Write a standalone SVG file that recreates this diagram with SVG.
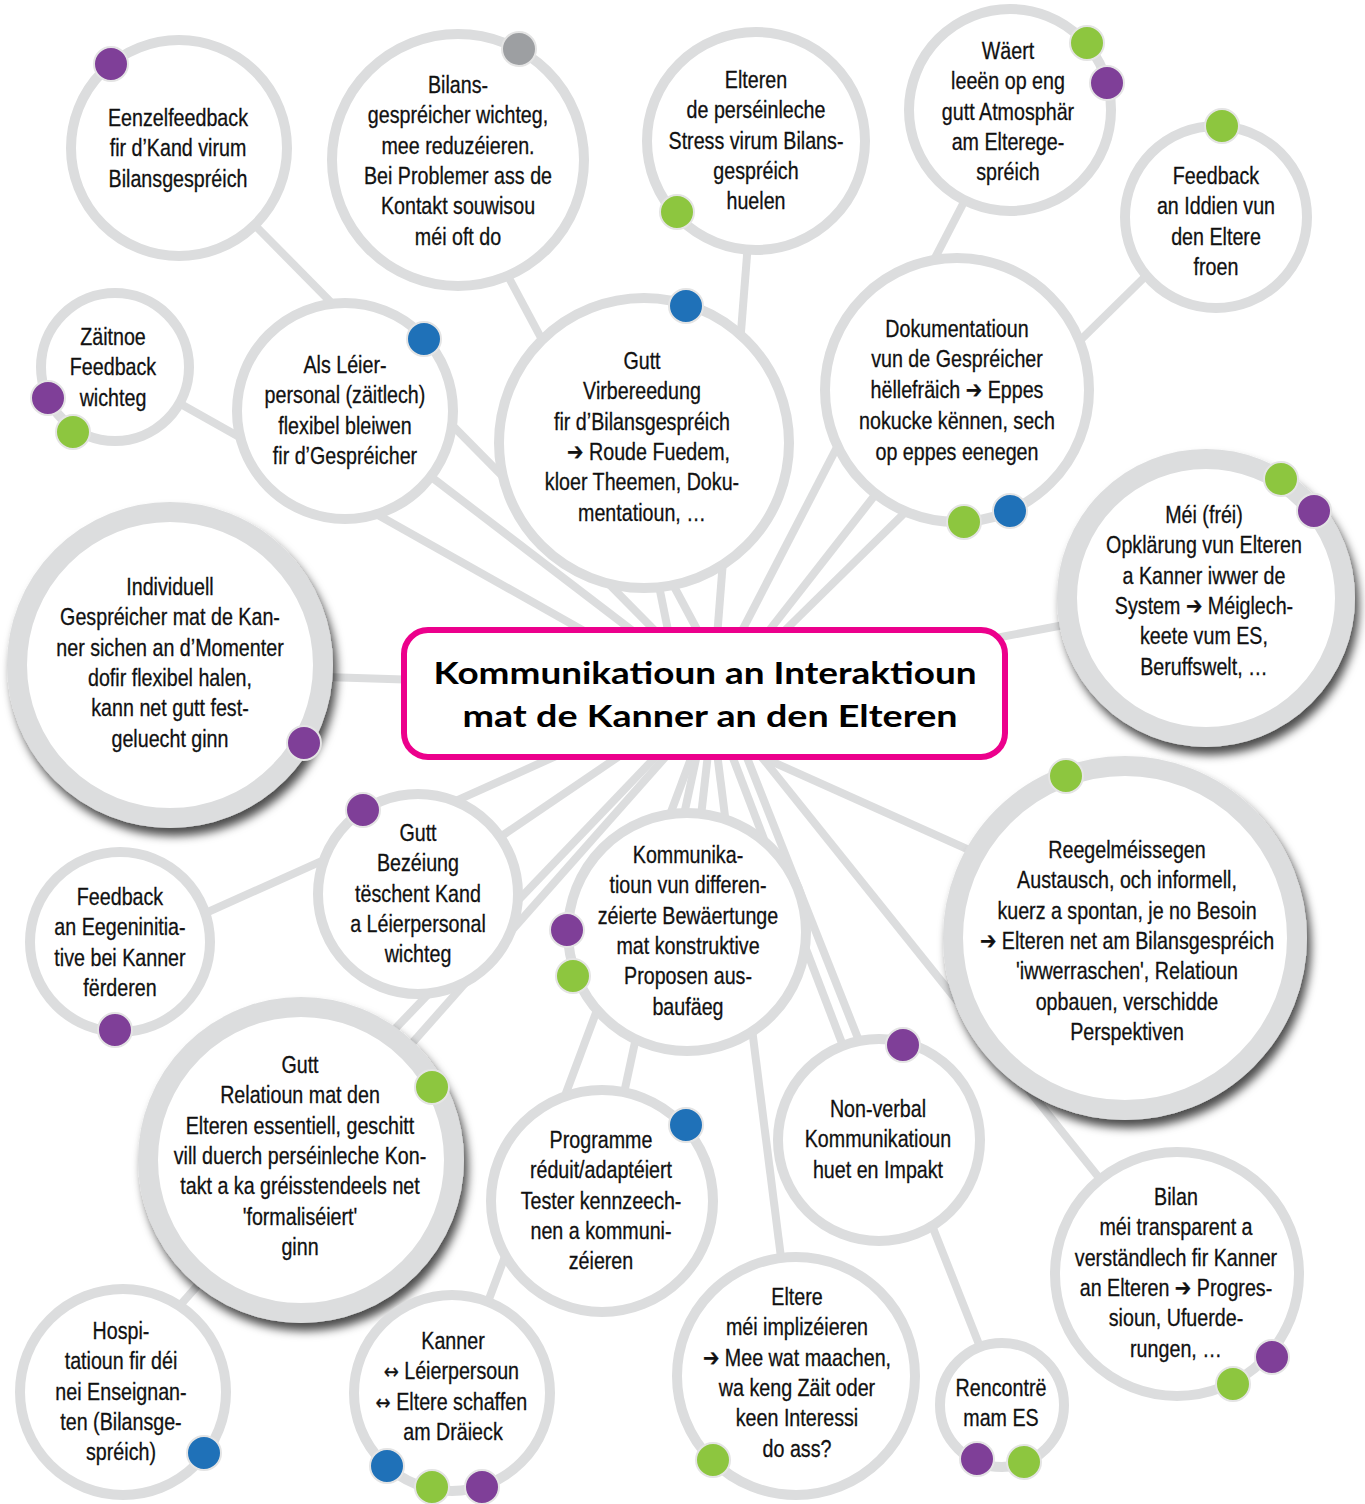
<svg xmlns="http://www.w3.org/2000/svg" width="1365" height="1504" viewBox="0 0 1365 1504">
<defs>
<filter id="sh" x="-20%" y="-20%" width="140%" height="140%">
<feDropShadow dx="4" dy="8" stdDeviation="5" flood-color="#000" flood-opacity="0.7"/>
</filter>
</defs>
<style>
.ring{fill:#fff;stroke:#dcddde;stroke-width:10}
.big{stroke-width:20;filter:url(#sh)}
.c line{stroke:#dcddde;stroke-width:8;fill:none}
text{font-family:"Liberation Sans","DejaVu Sans",sans-serif;font-size:24px;text-anchor:middle;fill:#111;stroke:#111;stroke-width:0.3}
.ar{font-family:"DejaVu Sans",sans-serif;font-size:22px}
.dot{stroke:#e4e4e4;stroke-width:2}
.p{fill:#7f3f98}.g{fill:#8dc63f}.b{fill:#1f71b8}.gr{fill:#9d9fa2}
.title{font-family:Lato,"Liberation Sans",sans-serif;font-weight:700;font-size:31px;fill:#000;stroke:none}
</style>
<rect width="1365" height="1504" fill="#fff"/>
<g id="connectors" class="c">
<line x1="230" y1="200" x2="674" y2="650"/>
<line x1="115" y1="367" x2="600" y2="640"/>
<line x1="345" y1="411" x2="655" y2="648"/>
<line x1="486" y1="235" x2="708" y2="650"/>
<line x1="630" y1="443" x2="672" y2="650"/>
<line x1="749" y1="230" x2="716" y2="650"/>
<line x1="965" y1="200" x2="732" y2="650"/>
<line x1="1160" y1="262" x2="765" y2="650"/>
<line x1="957" y1="390" x2="754" y2="650"/>
<line x1="200" y1="673" x2="420" y2="680"/>
<line x1="1206" y1="598" x2="985" y2="640"/>
<line x1="150" y1="938" x2="585" y2="743"/>
<line x1="418" y1="893" x2="640" y2="742"/>
<line x1="300" y1="1128" x2="667" y2="745"/>
<line x1="121" y1="1372" x2="676" y2="745"/>
<line x1="470" y1="1350" x2="696" y2="745"/>
<line x1="601" y1="1200" x2="699" y2="745"/>
<line x1="688" y1="932" x2="709" y2="745"/>
<line x1="796" y1="1376" x2="716" y2="745"/>
<line x1="879" y1="1140" x2="728" y2="745"/>
<line x1="1001" y1="1400" x2="742" y2="745"/>
<line x1="1125" y1="920" x2="735" y2="745"/>
<line x1="1177" y1="1275" x2="752" y2="745"/>
</g>
<g id="n-eenzelfeedback">
<circle class="ring" cx="179" cy="148" r="108"/>
<g transform="matrix(0.82 0 0 1 32.04 0)">
<text x="178" y="126">Eenzelfeedback</text>
<text x="178" y="156">fir d’Kand virum</text>
<text x="178" y="187">Bilansgespréich</text>
</g>
<circle class="dot p" cx="111" cy="64" r="17"/>
</g>
<g id="n-bilansgespreicher">
<circle class="ring" cx="458" cy="160" r="126"/>
<g transform="matrix(0.82 0 0 1 82.44 0)">
<text x="458" y="93">Bilans-</text>
<text x="458" y="123">gespréicher wichteg,</text>
<text x="458" y="154">mee reduzéieren.</text>
<text x="458" y="184">Bei Problemer ass de</text>
<text x="458" y="214">Kontakt souwisou</text>
<text x="458" y="245">méi oft do</text>
</g>
<circle class="dot gr" cx="519" cy="49" r="17"/>
</g>
<g id="n-stress">
<circle class="ring" cx="756" cy="141" r="109"/>
<g transform="matrix(0.82 0 0 1 136.08 0)">
<text x="756" y="88">Elteren</text>
<text x="756" y="118">de perséinleche</text>
<text x="756" y="149">Stress virum Bilans-</text>
<text x="756" y="179">gespréich</text>
<text x="756" y="209">huelen</text>
</g>
<circle class="dot g" cx="677" cy="212" r="17"/>
</g>
<g id="n-atmosphaer">
<circle class="ring" cx="1010" cy="110" r="101"/>
<g transform="matrix(0.82 0 0 1 181.44 0)">
<text x="1008" y="59">Wäert</text>
<text x="1008" y="89">leeën op eng</text>
<text x="1008" y="120">gutt Atmosphär</text>
<text x="1008" y="150">am Elterege-</text>
<text x="1008" y="180">spréich</text>
</g>
<circle class="dot g" cx="1087" cy="43" r="17"/>
<circle class="dot p" cx="1107" cy="83" r="17"/>
</g>
<g id="n-iddien">
<circle class="ring" cx="1216" cy="217" r="91"/>
<g transform="matrix(0.82 0 0 1 218.88 0)">
<text x="1216" y="184">Feedback</text>
<text x="1216" y="214">an Iddien vun</text>
<text x="1216" y="245">den Eltere</text>
<text x="1216" y="275">froen</text>
</g>
<circle class="dot g" cx="1222" cy="126" r="17"/>
</g>
<g id="n-zaitnoe">
<circle class="ring" cx="115" cy="367" r="74"/>
<g transform="matrix(0.82 0 0 1 20.34 0)">
<text x="113" y="345">Zäitnoe</text>
<text x="113" y="375">Feedback</text>
<text x="113" y="406">wichteg</text>
</g>
<circle class="dot p" cx="48" cy="398" r="17"/>
<circle class="dot g" cx="73" cy="432" r="17"/>
</g>
<g id="n-leierpersonal">
<circle class="ring" cx="345" cy="411" r="108"/>
<g transform="matrix(0.82 0 0 1 62.1 0)">
<text x="345" y="373">Als Léier-</text>
<text x="345" y="403">personal (zäitlech)</text>
<text x="345" y="434">flexibel bleiwen</text>
<text x="345" y="464">fir d’Gespréicher</text>
</g>
<circle class="dot b" cx="424" cy="339" r="17"/>
</g>
<g id="n-virbereedung">
<circle class="ring" cx="644" cy="443" r="145"/>
<g transform="matrix(0.82 0 0 1 115.56 0)">
<text x="642" y="369">Gutt</text>
<text x="642" y="399">Virbereedung</text>
<text x="642" y="430">fir d’Bilansgespréich</text>
<text x="650" y="460">➔  Roude Fuedem,</text>
<text x="642" y="490">kloer Theemen, Doku-</text>
<text x="642" y="521">mentatioun, …</text>
</g>
<circle class="dot b" cx="686" cy="306" r="17"/>
</g>
<g id="n-dokumentatioun">
<circle class="ring" cx="957" cy="390" r="132"/>
<g transform="matrix(0.82 0 0 1 172.26 0)">
<text x="957" y="337">Dokumentatioun</text>
<text x="957" y="367">vun de Gespréicher</text>
<text x="957" y="398">hëllefräich ➔  Eppes</text>
<text x="957" y="429">nokucke kënnen, sech</text>
<text x="957" y="460">op eppes eenegen</text>
</g>
<circle class="dot g" cx="964" cy="522" r="17"/>
<circle class="dot b" cx="1010" cy="511" r="17"/>
</g>
<g id="n-opklaerung">
<circle class="ring big" cx="1206" cy="598" r="139"/>
<g transform="matrix(0.82 0 0 1 216.72 0)">
<text x="1204" y="523">Méi (fréi)</text>
<text x="1204" y="553">Opklärung vun Elteren</text>
<text x="1204" y="584">a Kanner iwwer de</text>
<text x="1204" y="614">System ➔ Méiglech-</text>
<text x="1204" y="644">keete vum ES,</text>
<text x="1204" y="675">Beruffswelt, …</text>
</g>
<circle class="dot g" cx="1281" cy="479" r="17"/>
<circle class="dot p" cx="1314" cy="511" r="17"/>
</g>
<g id="n-individuell">
<circle class="ring big" cx="170" cy="665" r="153"/>
<g transform="matrix(0.82 0 0 1 30.6 0)">
<text x="170" y="595">Individuell</text>
<text x="170" y="625">Gespréicher mat de Kan-</text>
<text x="170" y="656">ner sichen an d’Momenter</text>
<text x="170" y="686">dofir flexibel halen,</text>
<text x="170" y="716">kann net gutt fest-</text>
<text x="170" y="747">geluecht ginn</text>
</g>
<circle class="dot p" cx="304" cy="743" r="17"/>
</g>
<g id="n-bezeiung">
<circle class="ring" cx="418" cy="894" r="100"/>
<g transform="matrix(0.82 0 0 1 75.24 0)">
<text x="418" y="841">Gutt</text>
<text x="418" y="871">Bezéiung</text>
<text x="418" y="902">tëschent Kand</text>
<text x="418" y="932">a Léierpersonal</text>
<text x="418" y="962">wichteg</text>
</g>
<circle class="dot p" cx="363" cy="810" r="17"/>
</g>
<g id="n-eegeninitiative">
<circle class="ring" cx="120" cy="942" r="90"/>
<g transform="matrix(0.82 0 0 1 21.6 0)">
<text x="120" y="905">Feedback</text>
<text x="120" y="935">an Eegeninitia-</text>
<text x="120" y="966">tive bei Kanner</text>
<text x="120" y="996">fërderen</text>
</g>
<circle class="dot p" cx="115" cy="1030" r="17"/>
</g>
<g id="n-bewaertunge">
<circle class="ring" cx="687" cy="932" r="119"/>
<g transform="matrix(0.82 0 0 1 123.84 0)">
<text x="688" y="863">Kommunika-</text>
<text x="688" y="893">tioun vun differen-</text>
<text x="688" y="924">zéierte Bewäertunge</text>
<text x="688" y="954">mat konstruktive</text>
<text x="688" y="984">Proposen aus-</text>
<text x="688" y="1015">baufäeg</text>
</g>
<circle class="dot p" cx="567" cy="930" r="17"/>
<circle class="dot g" cx="573" cy="976" r="17"/>
</g>
<g id="n-reegelmeissegen">
<circle class="ring big" cx="1125" cy="938" r="172"/>
<g transform="matrix(0.82 0 0 1 202.86 0)">
<text x="1127" y="858">Reegelméissegen</text>
<text x="1127" y="888">Austausch, och informell,</text>
<text x="1127" y="919">kuerz a spontan, je no Besoin</text>
<text x="1127" y="949">➔ Elteren net am Bilansgespréich</text>
<text x="1127" y="979">'iwwerraschen', Relatioun</text>
<text x="1127" y="1010">opbauen, verschidde</text>
<text x="1127" y="1040">Perspektiven</text>
</g>
<circle class="dot g" cx="1066" cy="776" r="17"/>
</g>
<g id="n-relatioun">
<circle class="ring big" cx="301" cy="1160" r="153"/>
<g transform="matrix(0.82 0 0 1 54 0)">
<text x="300" y="1073">Gutt</text>
<text x="300" y="1103">Relatioun mat den</text>
<text x="300" y="1134">Elteren essentiell, geschitt</text>
<text x="300" y="1164">vill duerch perséinleche Kon-</text>
<text x="300" y="1194">takt a ka gréisstendeels net</text>
<text x="300" y="1225">'formaliséiert'</text>
<text x="300" y="1255">ginn</text>
</g>
<circle class="dot g" cx="432" cy="1087" r="17"/>
</g>
<g id="n-programme">
<circle class="ring" cx="602" cy="1201" r="111"/>
<g transform="matrix(0.82 0 0 1 108.18 0)">
<text x="601" y="1148">Programme</text>
<text x="601" y="1178">réduit/adaptéiert</text>
<text x="601" y="1209">Tester kennzeech-</text>
<text x="601" y="1239">nen a kommuni-</text>
<text x="601" y="1269">zéieren</text>
</g>
<circle class="dot b" cx="686" cy="1125" r="17"/>
</g>
<g id="n-nonverbal">
<circle class="ring" cx="879" cy="1140" r="101"/>
<g transform="matrix(0.82 0 0 1 158.04 0)">
<text x="878" y="1117">Non-verbal</text>
<text x="878" y="1147">Kommunikatioun</text>
<text x="878" y="1178">huet en Impakt</text>
</g>
<circle class="dot p" cx="903" cy="1045" r="17"/>
</g>
<g id="n-bilan">
<circle class="ring" cx="1177" cy="1274" r="122"/>
<g transform="matrix(0.82 0 0 1 211.68 0)">
<text x="1176" y="1205">Bilan</text>
<text x="1176" y="1235">méi transparent a</text>
<text x="1176" y="1266">verständlech fir Kanner</text>
<text x="1176" y="1296">an Elteren ➔ Progres-</text>
<text x="1176" y="1326">sioun, Ufuerde-</text>
<text x="1176" y="1357">rungen, …</text>
</g>
<circle class="dot p" cx="1272" cy="1357" r="17"/>
<circle class="dot g" cx="1233" cy="1384" r="17"/>
</g>
<g id="n-hospitatioun">
<circle class="ring" cx="123" cy="1392" r="103"/>
<g transform="matrix(0.82 0 0 1 21.78 0)">
<text x="121" y="1339">Hospi-</text>
<text x="121" y="1369">tatioun fir déi</text>
<text x="121" y="1400">nei Enseignan-</text>
<text x="121" y="1430">ten (Bilansge-</text>
<text x="121" y="1460">spréich)</text>
</g>
<circle class="dot b" cx="204" cy="1453" r="17"/>
</g>
<g id="n-draieck">
<circle class="ring" cx="452" cy="1393" r="98"/>
<g transform="matrix(0.82 0 0 1 81.54 0)">
<text x="453" y="1349">Kanner</text>
<text x="451" y="1379"><tspan class="ar">↔</tspan> Léierpersoun</text>
<text x="451" y="1410"><tspan class="ar">↔</tspan> Eltere schaffen</text>
<text x="453" y="1440">am Dräieck</text>
</g>
<circle class="dot b" cx="387" cy="1466" r="17"/>
<circle class="dot g" cx="432" cy="1487" r="17"/>
<circle class="dot p" cx="482" cy="1487" r="17"/>
</g>
<g id="n-implizeieren">
<circle class="ring" cx="796" cy="1376" r="119"/>
<g transform="matrix(0.82 0 0 1 143.46 0)">
<text x="797" y="1305">Eltere</text>
<text x="797" y="1335">méi implizéieren</text>
<text x="797" y="1366">➔ Mee wat maachen,</text>
<text x="797" y="1396">wa keng Zäit oder</text>
<text x="797" y="1426">keen Interessi</text>
<text x="797" y="1457">do ass?</text>
</g>
<circle class="dot g" cx="713" cy="1460" r="17"/>
</g>
<g id="n-rencontre">
<circle class="ring" cx="1002" cy="1405" r="62"/>
<g transform="matrix(0.82 0 0 1 180.18 0)">
<text x="1001" y="1396">Rencontrë</text>
<text x="1001" y="1426">mam ES</text>
</g>
<circle class="dot p" cx="977" cy="1459" r="17"/>
<circle class="dot g" cx="1024" cy="1462" r="17"/>
</g>
<g id="n-center">
<rect x="404" y="630" width="601" height="127" rx="24" fill="#fff" stroke="#ec008c" stroke-width="6"/>
<text class="title" x="705" y="684" textLength="543" lengthAdjust="spacingAndGlyphs">Kommunikatioun an Interaktioun</text>
<text class="title" x="710" y="727" textLength="495" lengthAdjust="spacingAndGlyphs">mat de Kanner an den Elteren</text>
</g>
</svg>
